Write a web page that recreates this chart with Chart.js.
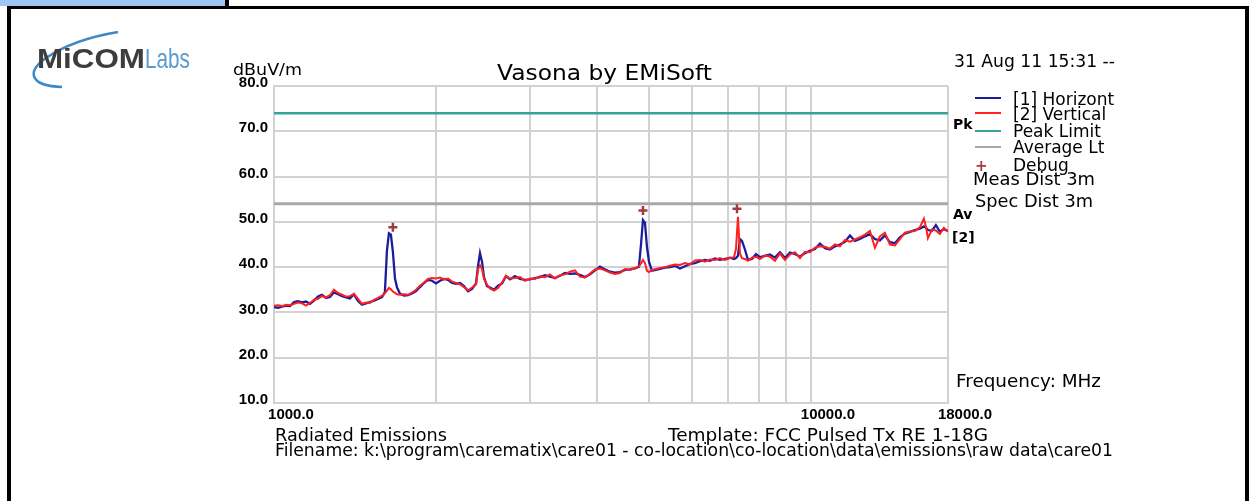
<!DOCTYPE html>
<html>
<head>
  <title>Vasona by EMiSoft - Radiated Emissions</title>
  <script src="https://cdn.jsdelivr.net/npm/chart.js"></script>
  <style>
    body { margin: 0; background: #fff; width: 1250px; height: 501px; overflow: hidden; position: relative; font-family: "DejaVu Sans", sans-serif; color: #000; }
    .box { position: absolute; background: #000; }
    .t { position: absolute; white-space: nowrap; line-height: 1; font-size: 17px; transform-origin: 0 0; }
    .key { position: absolute; left: 975px; width: 26px; height: 2px; }
    #chart { position: absolute; left: 0; top: 0; }
  </style>
</head>
<body>
  <!-- frame round the report -->
  <div class="box" style="left:0; top:0; width:225px; height:6px; background:#9fc3f5;"></div>
  <div class="box" style="left:225px; top:0; width:4px; height:7px;"></div>
  <div class="box" style="left:7px; top:6px; width:1242px; height:3px;"></div>
  <div class="box" style="left:7px; top:6px; width:4px; height:495px;"></div>
  <div class="box" style="left:1245px; top:6px; width:4px; height:495px;"></div>

  <canvas id="chart" width="1250" height="501"></canvas>

  <!-- logo -->
  <svg style="position:absolute; left:0; top:0;" width="230" height="100">
    <path d="M 62 87 C 30 86, 26 72, 46 58 C 62 47, 88 37, 118 32" fill="none" stroke="#3f88c8" stroke-width="2.5" />
  </svg>
  <div class="t" data-w="108" style="left:37px; top:43px; font:bold 28px 'Liberation Sans'; color:#3d3d3d;">MiCOM</div>
  <div class="t" data-w="45" style="left:145px; top:43px; font:28px 'Liberation Sans'; color:#5b9bd0;">Labs</div>

  <!-- header texts -->
  <div class="t" data-w="69" style="left:233px; top:63px; font-size:15px;">dBuV/m</div>
  <div class="t" data-w="215" style="left:497px; top:63px; font-size:21px;">Vasona by EMiSoft</div>
  <div class="t" data-w="161" style="left:954px; top:53px;">31 Aug 11 15:31 --</div>

  <!-- legend -->
  <div class="key" style="top:97px; background:#1c1c9c;"></div>
  <div class="key" style="top:112px; background:#ff2020;"></div>
  <div class="key" style="top:130px; background:#33a39c;"></div>
  <div class="key" style="top:146px; background:#a8a8a8;"></div>
  <div class="t" style="left:975px; top:157px; font:bold 15px 'DejaVu Sans'; color:#a03c3c;">+</div>
  <div class="t" style="left:1013px; top:91px; width:102px; overflow:hidden;">[1] Horizontal</div>
  <div class="t" style="left:1013px; top:106px;">[2] Vertical</div>
  <div class="t" style="left:1013px; top:123px;">Peak Limit</div>
  <div class="t" style="left:1013px; top:139px;">Average Lt</div>
  <div class="t" style="left:1013px; top:157px;">Debug</div>
  <div class="t" data-w="122" style="left:973px; top:171px;">Meas Dist 3m</div>
  <div class="t" data-w="118" style="left:975px; top:193px;">Spec Dist 3m</div>
  <div class="t" style="left:953px; top:116px; font:bold 14px 'DejaVu Sans';">Pk</div>
  <div class="t" style="left:953px; top:206px; font:bold 14px 'DejaVu Sans';">Av</div>
  <div class="t" style="left:952px; top:229px; font:bold 14px 'DejaVu Sans';">[2]</div>
  <div class="t" data-w="145" style="left:956px; top:373px;">Frequency: MHz</div>

  <!-- footer -->
  <div class="t" data-w="172" style="left:275px; top:427px;">Radiated Emissions</div>
  <div class="t" data-w="320" style="left:668px; top:427px;">Template: FCC Pulsed Tx RE 1-18G</div>
  <div class="t" data-w="838" style="left:275px; top:442px;">Filename: k:\program\carematix\care01 - co-location\co-location\data\emissions\raw data\care01</div>

  <script>
    // frequency points (MHz) shared by both polarisations
    const freqs = [
      1000, 1017, 1035, 1053, 1071, 1090, 1108, 1128, 1147, 1167, 1187, 1208, 1228, 1250, 1271, 1293,
      1316, 1339, 1362, 1385, 1409, 1434, 1458, 1484, 1509, 1536, 1562, 1589, 1609, 1623, 1637, 1651,
      1665, 1680, 1695, 1717, 1747, 1777, 1807, 1839, 1870, 1903, 1935, 1969, 2003, 2038, 2073, 2109,
      2146, 2183, 2221, 2259, 2298, 2338, 2378, 2399, 2419, 2440, 2461, 2493, 2525, 2569, 2613, 2659,
      2704, 2751, 2811, 2872, 2934, 2998, 3062, 3129, 3197, 3266, 3337, 3409, 3483, 3558, 3635, 3714,
      3794, 3877, 3961, 4046, 4134, 4223, 4315, 4408, 4504, 4601, 4702, 4783, 4825, 4866, 4908, 4950,
      4993, 5057, 5145, 5234, 5347, 5463, 5581, 5702, 5827, 5953, 6081, 6213, 6348, 6485, 6626, 6769,
      6917, 7067, 7189, 7251, 7313, 7376, 7440, 7535, 7633, 7765, 7899, 8035, 8209, 8387, 8570, 8755,
      8945, 9139, 9337, 9540, 9746, 9957, 10172, 10394, 10619, 10849, 11084, 11324, 11570, 11820, 12076, 12338,
      12605, 12878, 13157, 13443, 13734, 14031, 14335, 14646, 14962, 15287, 15618, 15957, 16233, 16373, 16514, 16797,
      17088, 17384, 17685, 18000
    ];
    // [1] Horizontal, dBuV/m
    const horiz = [
      31.2, 31.0, 31.3, 31.5, 31.4, 32.3, 32.5, 32.2, 32.4, 31.9, 32.6, 33.5, 33.9, 33.2, 33.4, 34.4,
      34.0, 33.6, 33.3, 33.1, 34.0, 32.5, 31.7, 32.0, 32.3, 32.6, 33.0, 33.4, 34.5, 43.6, 47.5, 47.2,
      43.4, 37.5, 35.5, 34.1, 33.7, 33.8, 34.2, 34.7, 35.6, 36.5, 37.2, 37.0, 36.4, 37.0, 37.4, 37.2,
      36.5, 36.3, 36.5, 35.8, 34.7, 35.2, 36.4, 40.3, 43.1, 41.2, 37.8, 35.8, 35.5, 35.0, 35.9, 36.4,
      38.0, 37.3, 38.0, 37.4, 37.2, 37.3, 37.6, 37.8, 38.2, 37.9, 37.6, 38.1, 38.7, 38.5, 38.6, 38.3,
      37.8, 38.4, 39.3, 40.1, 39.5, 39.0, 38.8, 38.9, 39.4, 39.5, 39.7, 40.1, 45.0, 50.4, 49.8, 44.5,
      41.2, 39.2, 39.4, 39.6, 39.9, 40.0, 40.3, 39.7, 40.2, 40.7, 40.9, 41.3, 41.6, 41.4, 41.9, 41.6,
      41.8, 42.1, 41.8, 42.0, 42.5, 46.2, 45.8, 43.9, 41.6, 41.8, 42.9, 42.2, 42.5, 42.8, 42.1, 43.3,
      42.0, 43.2, 42.9, 42.3, 43.1, 43.6, 44.0, 45.2, 44.2, 43.9, 44.6, 45.0, 45.6, 47.0, 45.8, 46.2,
      46.8, 47.3, 46.2, 45.9, 47.0, 45.5, 45.3, 46.6, 47.4, 47.8, 48.2, 48.5, 49.0, 48.7, 48.2, 48.0,
      49.3, 47.8, 48.4, 48.0
    ];
    // [2] Vertical, dBuV/m
    const vert = [
      31.5, 31.6, 31.4, 31.7, 31.6, 31.9, 32.2, 32.0, 31.5, 32.1, 32.8, 33.0, 33.6, 33.3, 33.8, 35.0,
      34.3, 33.9, 33.5, 33.6, 34.1, 33.0, 31.9, 32.2, 32.1, 32.8, 33.2, 33.7, 34.2, 34.8, 35.4, 35.1,
      34.6, 34.3, 34.0, 33.9, 34.0, 33.9, 34.4, 35.0, 35.9, 36.6, 37.4, 37.6, 37.5, 37.7, 37.3, 37.5,
      36.8, 36.5, 36.2, 35.6, 34.9, 35.5, 36.2, 39.5, 40.4, 39.6, 37.4, 36.1, 35.3, 34.8, 35.4, 36.6,
      38.1, 37.5, 37.6, 37.8, 37.0, 37.5, 37.4, 38.0, 37.8, 38.4, 37.5, 38.2, 38.4, 39.0, 39.3, 37.9,
      37.7, 38.6, 39.5, 39.7, 39.3, 38.8, 38.5, 38.7, 39.6, 39.4, 39.8, 40.2, 40.8, 41.6, 40.9, 39.2,
      38.9, 39.4, 39.6, 39.8, 40.0, 40.3, 40.6, 40.5, 40.9, 40.6, 41.5, 41.6, 41.2, 41.7, 41.6, 42.0,
      41.6, 42.0, 42.2, 44.0, 51.1, 43.0, 42.0, 41.8, 41.4, 42.1, 42.3, 41.8, 42.6, 42.3, 41.4, 43.0,
      41.6, 42.8, 43.3, 42.0, 43.4, 43.3, 44.3, 44.6, 44.5, 44.1, 45.0, 44.6, 46.0, 45.6, 46.1, 46.6,
      47.2, 48.0, 44.3, 46.8, 47.6, 45.0, 44.8, 46.2, 47.6, 47.9, 48.0, 48.8, 50.7, 49.0, 46.4, 48.3,
      48.1, 47.3, 48.7, 47.8
    ];
    const peakLimit = 74;
    const avgLimit = 54;
    const debugFreqs = [1665, 4866, 7282];
    const debugLevels = [48.8, 52.5, 52.9];
    const xTicks = [1000, 2000, 3000, 4000, 5000, 6000, 7000, 8000, 9000, 10000, 18000];
    const xLabels = [1000, 10000, 18000];
    const yTicks = [10, 20, 30, 40, 50, 60, 70, 80];

    const pts = (xs, ys) => xs.map((x, i) => ({ x: x, y: ys[i] }));
    const flat = (v) => [{ x: 1000, y: v }, { x: 18000, y: v }];
    const gridColor = '#d2d2d2';
    const tickFont = { family: 'Liberation Sans', size: 15, weight: 'bold' };

    new Chart(document.getElementById('chart'), {
      type: 'line',
      data: {
        datasets: [
          { label: 'Debug', data: pts(debugFreqs, debugLevels), showLine: false, pointStyle: 'cross',
            pointRadius: 4.5, borderColor: '#a03c3c', borderWidth: 2.5, order: 0 },
          { label: '[2] Vertical', data: pts(freqs, vert), borderColor: '#ff2020', borderWidth: 2,
            pointRadius: 0, order: 1 },
          { label: '[1] Horizontal', data: pts(freqs, horiz), borderColor: '#1c1c9c', borderWidth: 2.3,
            pointRadius: 0, order: 2 },
          { label: 'Peak Limit', data: flat(peakLimit), borderColor: '#33a39c', borderWidth: 2.5,
            pointRadius: 0, order: 3 },
          { label: 'Average Lt', data: flat(avgLimit), borderColor: '#a8a8a8', borderWidth: 3,
            pointRadius: 0, order: 3 }
        ]
      },
      options: {
        responsive: false,
        animation: false,
        layout: { padding: { left: 234, top: 86, right: 302, bottom: 74 } },
        plugins: { legend: { display: false }, tooltip: { enabled: false } },
        scales: {
          x: {
            type: 'logarithmic', min: 1000, max: 18000,
            afterBuildTicks: (s) => { s.ticks = xTicks.map(v => ({ value: v })); },
            afterFit: (s) => { s.height = 24; },
            grid: { color: gridColor, lineWidth: 2, drawTicks: false },
            border: { color: gridColor, width: 2 },
            ticks: {
              autoSkip: false, maxRotation: 0, padding: 3, labelOffset: 17, color: '#000', font: tickFont,
              callback: (v) => xLabels.includes(v) ? v.toFixed(1) : ''
            }
          },
          y: {
            min: 10, max: 80,
            afterBuildTicks: (s) => { s.ticks = yTicks.map(v => ({ value: v })); },
            afterFit: (s) => { s.width = 40; },
            grid: { color: gridColor, lineWidth: 2, drawTicks: false },
            border: { color: gridColor, width: 2 },
            ticks: { padding: 6, labelOffset: -3, color: '#000', font: tickFont,
              callback: (v) => v.toFixed(1) }
          }
        }
      }
    });

    // stretch the report texts to the widths they have in the printout
    document.querySelectorAll('[data-w]').forEach(el => {
      const w = el.getBoundingClientRect().width;
      el.style.transform = 'scaleX(' + (el.dataset.w / w) + ')';
    });
  </script>
</body>
</html>
